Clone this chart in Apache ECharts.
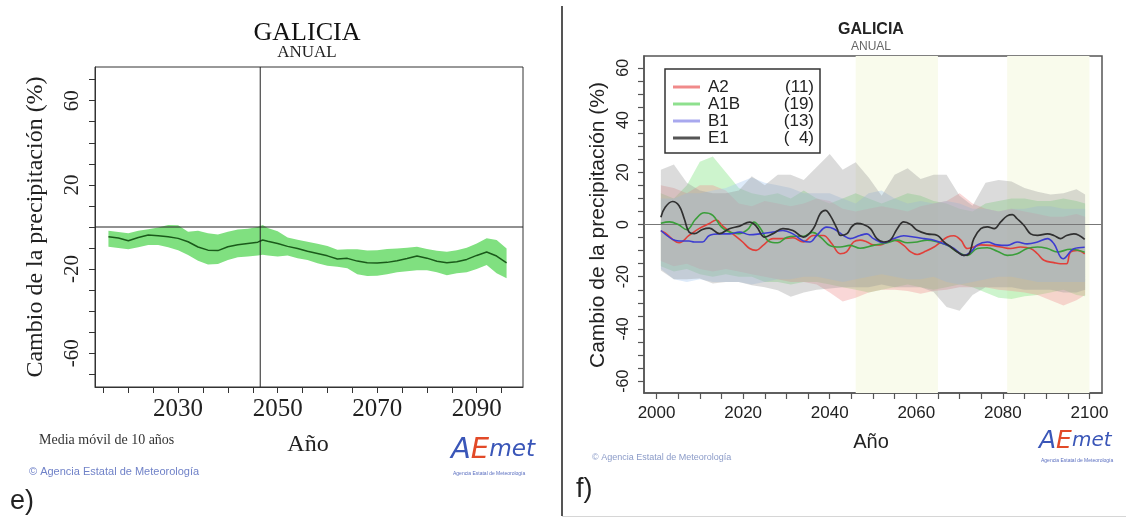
<!DOCTYPE html>
<html>
<head>
<meta charset="utf-8">
<script src="https://cdn.jsdelivr.net/npm/echarts@6/dist/echarts.min.js"></script>
<style>
  html, body { margin: 0; padding: 0; background: #ffffff; }
  #chart { width: 1126px; height: 521px; }
</style>
</head>
<body>
<div id="chart"></div>
<script>
// ---------- Panel e: 10-year moving mean, annual precipitation change (%) ----------
const yearsE = [2016, 2018, 2020, 2022, 2024, 2026, 2028, 2030, 2032, 2034, 2036, 2038, 2040, 2042,
  2044, 2046, 2047, 2048, 2050, 2052, 2054, 2056, 2058, 2060, 2062, 2064, 2066, 2068, 2070, 2072,
  2074, 2076, 2078, 2080, 2082, 2084, 2086, 2088, 2090, 2092, 2094, 2096];
const meanE = [-4.6, -5.2, -6.5, -5.0, -3.8, -4.1, -4.6, -5.4, -7.0, -9.5, -11.0, -11.2, -9.4, -8.4,
  -7.8, -7.2, -6.2, -6.8, -7.8, -9.2, -10.2, -11.5, -12.6, -13.7, -15.2, -14.9, -16.2, -17.0, -17.1, -16.8,
  -16.0, -15.0, -13.8, -14.8, -16.3, -17.0, -16.5, -15.4, -13.5, -11.9, -13.8, -17.0];
const highE = [-1.8, -2.4, -3.0, -1.8, -1.1, -0.2, 0.9, 0.8, -2.2, -1.8, -3.0, -3.6, -2.2, -1.2,
  -0.8, 0.0, 1.0, -0.5, -2.0, -5.0, -6.0, -7.0, -8.0, -9.0, -10.8, -10.6, -10.6, -11.2, -11.0, -10.5,
  -10.2, -9.8, -9.4, -10.4, -11.3, -11.7, -11.0, -9.8, -7.8, -5.4, -6.2, -10.2];
const lowE = [-9.4, -10.0, -10.6, -9.6, -8.6, -8.6, -9.6, -11.0, -13.3, -16.0, -17.8, -17.6, -15.7, -14.4,
  -14.0, -13.5, -13.2, -13.5, -14.0, -13.5, -14.8, -15.7, -17.2, -18.4, -18.9, -19.6, -22.5, -23.3, -23.1, -22.5,
  -21.5, -21.0, -20.5, -20.5, -21.5, -22.9, -22.0, -21.5, -20.0, -18.1, -22.0, -24.4];
const markYearE = 2046.5;
const xTicksE = [2015, 2020, 2025, 2030, 2035, 2040, 2045, 2050, 2055, 2060, 2065, 2070, 2075, 2080, 2085, 2090, 2095];
const xLabelsE = [2030, 2050, 2070, 2090];
const yTicksE = [-70, -60, -50, -40, -30, -20, -10, 0, 10, 20, 30, 40, 50, 60, 70];
const yLabelsE = [-60, -20, 20, 60];

// ---------- Panel f: scenario ensembles (envelopes + ensemble means) ----------
const bandYears = [2001, 2004, 2007, 2010, 2013, 2016, 2019, 2022, 2025, 2028, 2031, 2034, 2037, 2040,
  2043, 2046, 2049, 2052, 2055, 2058, 2061, 2064, 2067, 2070, 2073, 2076, 2079, 2082, 2085, 2088,
  2091, 2094, 2097, 2099];
const hiE1 = [21, 23, 16, 13, 12, 12, 13, 18.5, 15, 19, 19, 17, 22, 27, 21, 23.8, 18, 11, 19, 21.5,
  17.4, 19, 19, 11, 7.2, 16, 17, 16.5, 14, 12.5, 11.5, 12, 13.5, 11.5];
const loE1 = [-17.6, -21, -21, -20.7, -22.6, -22, -22, -23.3, -24, -25.2, -27.7, -26, -25, -24.5, -24, -24,
  -24, -23, -24, -24, -24, -25.8, -31.6, -33, -27, -24, -24, -24, -25, -25, -25, -26, -26, -25];
const hiA1B = [12, 10, 15, 24, 26, 20, 14, 12, 11, 12, 10, 13, 10, 8, 10, 12, 10, 8, 10, 12, 11, 9, 8, 6,
  5, 8, 9, 10, 10, 9, 9, 10, 9, 8];
const loA1B = [-16, -18, -17, -19, -20, -19, -20, -20, -22, -22, -23, -22, -22, -23, -24, -25, -26, -25,
  -24, -23, -24, -25, -24, -23, -24, -26, -28, -28.5, -27.5, -27, -26, -25, -27, -27.5];
const hiA2 = [15, 14, 12, 15, 15, 13, 8, 7, 9, 8, 7, 8, 10, 9, 6, 5, 6, 7, 6, 5, 7, 8, 9, 12, 8, 6, 5,
  6, 5, 4, 3, 3, 4, 3];
const loA2 = [-14, -16, -15, -17, -18, -17, -18, -19, -20, -21, -22, -22, -23, -26, -29.5, -28, -26, -25,
  -25, -25.5, -26.5, -25.5, -25, -24, -24, -24, -25, -25.5, -26, -27, -29, -31, -29, -27];
const hiB1 = [10, 10, 12, 12, 13, 14, 16, 18, 16, 15, 14, 12, 12, 12, 10, 8, 12, 13, 10, 8, 9, 8, 9, 8,
  6, 6, 5, 6, 6, 7, 7, 6, 6, 6];
const loB1 = [-17, -21, -22, -21, -22, -22, -22, -23, -22, -21, -21, -20, -20, -21, -22, -21, -20, -19,
  -20, -21, -21, -20, -22, -23, -22, -21, -20, -20, -21, -22, -22, -22, -22, -22];

const yearsA2 = [2001, 2002, 2003.7, 2005.2, 2007.5, 2009.8, 2012.2, 2013.8, 2015.3, 2017.6, 2019.9, 2021.5,
  2023, 2024.6, 2026.9, 2029.2, 2031.5, 2033.9, 2036.2, 2038.5, 2040.5, 2042.4, 2043.9, 2045.5, 2047, 2048.6,
  2050.1, 2051.7, 2053.3, 2054.8, 2057.1, 2058.7, 2060.2, 2061.8, 2064.1, 2065.6, 2067.2, 2068.7, 2070.3,
  2071.8, 2073.3, 2074.9, 2077.2, 2079.5, 2081.8, 2084.1, 2086.4, 2088, 2089.5, 2091.8, 2093.3, 2094.7,
  2095.6, 2097.2, 2098.9];
const valsA2 = [-2.5, -3.2, -5.7, -7.0, -4.2, -1.6, 0.4, 1.7, -0.6, -3.6, -6.7, -9.2, -9.9, -8.0, -5.4, -5.4,
  -5.1, -6.7, -4.2, -4.2, -7.4, -11.2, -10.5, -6.7, -6.0, -6.7, -7.8, -7.8, -6.7, -6.0, -8.0, -10.5, -11.5,
  -10.5, -8.6, -6.7, -4.8, -4.3, -6.0, -9.2, -8.6, -7.8, -8.0, -8.6, -9.2, -8.6, -9.2, -11.2, -13.7, -14.6,
  -15.0, -15.0, -10.6, -9.9, -11.2];
const yearsA1B = [2001, 2003, 2005, 2007, 2009, 2011, 2013, 2015, 2017, 2019, 2021, 2022.5, 2024, 2026, 2028,
  2030, 2032, 2034, 2036, 2038, 2040, 2042.4, 2044.7, 2047, 2050.1, 2053.3, 2055.6, 2057.9, 2060.2, 2062.5,
  2064.9, 2067.2, 2069.5, 2071.8, 2074.1, 2076.4, 2078.7, 2081, 2083.3, 2085.6, 2088, 2090.3, 2092.6, 2095.6,
  2098.9];
const valsA1B = [0.5, 1.0, 0.0, -2.0, 2.0, 4.5, 3.5, -1.0, -3.0, -3.5, -2.0, 0.9, -1.5, -6.5, -7.0, -5.0, -4.5,
  -4.5, -3.0, -5.0, -8.0, -8.6, -8.0, -9.1, -8.0, -7.0, -6.0, -7.0, -6.7, -6.0, -6.7, -8.0, -10.5, -11.8, -9.2,
  -8.9, -10.2, -11.8, -11.2, -9.2, -8.6, -9.2, -10.5, -9.5, -10.6];
const yearsB1 = [2001, 2003.7, 2005.2, 2007.5, 2008.7, 2010.6, 2012.2, 2014.5, 2016.8, 2019.2, 2021.5, 2023.8,
  2026.9, 2029.2, 2031.5, 2033.9, 2035.4, 2037, 2039.3, 2040.9, 2043.2, 2044.7, 2047, 2048.6, 2050.1, 2052.5,
  2054.8, 2057.1, 2059.4, 2061.8, 2064.1, 2066.4, 2068.7, 2071, 2072.6, 2074.1, 2076.4, 2078.7, 2081, 2083.3,
  2085.6, 2088, 2090.3, 2091.8, 2093.9, 2096.4, 2098.9];
const valsB1 = [-2.3, -5.7, -6.3, -6.3, -6.7, -6.7, -4.2, -3.6, -3.6, -2.9, -3.9, -3.6, -2.9, -2.3, -3.6, -6.3,
  -6.7, -4.2, -1.0, -1.6, -4.2, -5.4, -4.2, -3.6, -5.4, -7.0, -5.4, -4.3, -4.8, -5.4, -6.0, -7.4, -9.2, -11.8,
  -10.5, -7.8, -6.7, -7.8, -8.0, -6.7, -7.4, -6.7, -5.4, -7.4, -13.1, -9.3, -8.7];
const yearsE1 = [2001, 2002, 2003.7, 2005.2, 2006.4, 2007.5, 2008.7, 2010.6, 2012.2, 2014.5, 2016.8, 2019.2,
  2021.5, 2023, 2025, 2026.9, 2029.2, 2031.5, 2033.9, 2036.2, 2037.8, 2039, 2040.1, 2041.7, 2042.5, 2044,
  2045, 2046.3, 2047.8, 2049.4, 2050.9, 2052.5, 2054, 2055.6, 2057.1, 2058.7, 2060.2, 2062.5, 2064.9, 2066.4,
  2068, 2069.5, 2071, 2072.2, 2073.3, 2074.9, 2076.4, 2078, 2079.5, 2081, 2082.2, 2083.3, 2084.9, 2086.4,
  2088, 2090.3, 2091.8, 2093.3, 2094.7, 2096.4, 2098.9];
const valsE1 = [2.8, 6.6, 8.8, 7.2, 2.2, -2.9, -3.5, -1.9, -1.4, -3.5, -1.6, -0.6, 0.9, -0.6, -4.8, -3.5, -1.6,
  -2.3, -4.8, -1.6, 4.1, 5.4, 3.5, -1.6, -4.2, -3.5, -1.0, 0.4, 0.0, -1.6, -5.4, -6.7, -6.0, -1.6, 1.0, 0.0,
  -2.2, -3.6, -4.2, -6.7, -8.6, -10.5, -11.8, -11.2, -5.4, -1.6, -0.9, -1.6, 1.0, 3.3, 3.8, 2.2, -0.4, -3.6,
  -4.2, -3.6, -4.2, -5.4, -4.2, -3.6, -5.7];

const scenarioNames = ['A2', 'A1B', 'B1', 'E1'];
const scenarioCounts = ['(11)', '(19)', '(13)', '(  4)'];
const highlightPeriods = [[2046, 2065], [2081, 2100]];
const xTicksF = [];
for (let y = 2000; y <= 2100; y += 5) xTicksF.push(y);
const xLabelsF = [2000, 2020, 2040, 2060, 2080, 2100];
const yTicksF = [];
for (let v = -60; v <= 60; v += 5) yTicksF.push(v);
const yLabelsF = [-60, -40, -20, 0, 20, 40, 60];

// ---------- styling ----------
const SERIF = "'Liberation Serif', 'DejaVu Serif', serif";
const SANS = "'Liberation Sans', Arial, sans-serif";
const lineColors = { A2: '#e0403a', A1B: '#3a9e3a', B1: '#3c3cd0', E1: '#303030' };
const keyColors = { A2: '#f08a8a', A1B: '#8ee08e', B1: '#a8a8ee', E1: '#555555' };
const bandFill = {
  A1B: 'rgba(135,228,135,0.42)',
  A2: 'rgba(238,150,150,0.38)',
  B1: 'rgba(165,200,240,0.38)',
  E1: 'rgba(150,150,150,0.34)'
};
const plainNumber = v => String(v);

function zip(xs, ys) { return xs.map((x, i) => [x, ys[i]]); }

// filled envelope between lo and hi, drawn as one polygon through the axes' scales
function band(name, xi, years, lo, hi, fill, z) {
  return {
    name: name, type: 'custom', xAxisIndex: xi, yAxisIndex: xi, z: z, silent: true, clip: true,
    data: years.map((y, i) => [y, lo[i], hi[i]]),
    encode: { x: 0, y: [1, 2] },
    renderItem: function (params, api) {
      if (params.dataIndex !== 0) return null;
      const pts = [];
      for (let i = 0; i < years.length; i++) pts.push(api.coord([years[i], hi[i]]));
      for (let i = years.length - 1; i >= 0; i--) pts.push(api.coord([years[i], lo[i]]));
      return { type: 'polygon', shape: { points: pts }, style: { fill: fill, stroke: null } };
    }
  };
}

function line(name, xi, xs, ys, color, width, z, smooth) {
  return {
    name: name, type: 'line', xAxisIndex: xi, yAxisIndex: xi, z: z, silent: true,
    data: zip(xs, ys), showSymbol: false, smooth: smooth,
    lineStyle: { color: color, width: width }
  };
}

const xMinE = 2013.3, xMaxE = 2099.3, yMinE = -76, yMaxE = 76;
const xMinF = 1997.1, xMaxF = 2102.9, yMinF = -64.5, yMaxF = 64.5;

const series = [
  band('rango', 0, yearsE, lowE, highE, '#80e080', 2),
  line('media', 0, yearsE, meanE, '#1a5a1a', 1.5, 4, false),
  line('cero', 0, [xMinE, xMaxE], [0, 0], '#222', 1, 5, false),
  line('corte', 0, [markYearE, markYearE], [yMinE, yMaxE], '#222', 1, 5, false),

  {
    name: 'periodos', type: 'line', xAxisIndex: 1, yAxisIndex: 1, z: 1, silent: true,
    data: [[xMinF, 0], [xMaxF, 0]], showSymbol: false, lineStyle: { opacity: 0 },
    markArea: {
      silent: true,
      itemStyle: { color: '#f9fbec' },
      data: highlightPeriods.map(p => [{ xAxis: p[0] }, { xAxis: p[1] }])
    }
  },
  band('A1B', 1, bandYears, loA1B, hiA1B, bandFill.A1B, 2),
  band('A2', 1, bandYears, loA2, hiA2, bandFill.A2, 2),
  band('B1', 1, bandYears, loB1, hiB1, bandFill.B1, 2),
  band('E1', 1, bandYears, loE1, hiE1, bandFill.E1, 2),
  line('cero f', 1, [xMinF, xMaxF], [0, 0], '#777', 1, 3, false),
  line('A2', 1, yearsA2, valsA2, lineColors.A2, 1.6, 4, 0.4),
  line('A1B', 1, yearsA1B, valsA1B, lineColors.A1B, 1.6, 4, 0.4),
  line('B1', 1, yearsB1, valsB1, lineColors.B1, 1.6, 4, 0.4),
  line('E1', 1, yearsE1, valsE1, lineColors.E1, 1.7, 5, 0.4)
];

// legend box of panel f
const legendGraphics = [{
  type: 'rect', shape: { x: 665, y: 69, width: 155, height: 84 },
  style: { fill: '#ffffff', stroke: '#333', lineWidth: 1.5 }, z: 50
}];
scenarioNames.forEach((n, i) => {
  const y = 87 + i * 17;
  legendGraphics.push({ type: 'line', shape: { x1: 673, y1: y, x2: 700, y2: y },
    style: { stroke: keyColors[n], lineWidth: 3 }, z: 51 });
  legendGraphics.push({ type: 'text', x: 708, y: y,
    style: { text: n, fontSize: 17, fontFamily: SANS, fill: '#222', align: 'left', verticalAlign: 'middle' }, z: 51 });
  legendGraphics.push({ type: 'text', x: 814, y: y,
    style: { text: scenarioCounts[i], fontSize: 17, fontFamily: SANS, fill: '#222', align: 'right', verticalAlign: 'middle' }, z: 51 });
});

function txt(x, y, text, size, family, fill, extra) {
  return Object.assign({ type: 'text', x: x, y: y, z: 60,
    style: Object.assign({ text: text, fontSize: size, fontFamily: family, fill: fill,
      align: 'center', verticalAlign: 'middle' }, (extra && extra.style) || {}) },
    extra && extra.rotation ? { rotation: extra.rotation } : {});
}

function logo(x, y, size) {
  return [
    { type: 'text', x: x, y: y, z: 60, style: {
      text: '{a|A}{e|E}{m|met}', verticalAlign: 'middle', align: 'left',
      rich: {
        a: { fill: '#3a56b8', fontSize: size, fontFamily: "'DejaVu Sans', sans-serif", fontStyle: 'italic' },
        e: { fill: '#e24a28', fontSize: size, fontFamily: "'DejaVu Sans', sans-serif", fontStyle: 'italic' },
        m: { fill: '#3a56b8', fontSize: size * 0.8, fontFamily: "'DejaVu Sans', sans-serif", fontStyle: 'italic' }
      } } },
    { type: 'text', x: x + 2, y: y + size * 0.8, z: 60, style: {
      text: 'Agencia Estatal de Meteorología', fontSize: 5, fontFamily: SANS, fill: '#5b6fc0',
      align: 'left', verticalAlign: 'middle' } }
  ];
}

const graphics = [
  // panel e texts
  txt(307, 33, 'GALICIA', 26, SERIF, '#111'),
  txt(307, 53, 'ANUAL', 17, SERIF, '#222'),
  txt(36, 227, 'Cambio de la precipitación (%)', 24, SERIF, '#222', { rotation: Math.PI / 2 }),
  txt(308, 445, 'Año', 24, SERIF, '#222'),
  txt(39, 440, 'Media móvil de 10 años', 14, SERIF, '#333', { style: { align: 'left' } }),
  txt(29, 472, '© Agencia Estatal de Meteorología', 11, SANS, '#7082c8', { style: { align: 'left' } }),
  txt(10, 502, 'e)', 27, SANS, '#222', { style: { align: 'left' } }),
  ...logo(451, 450, 29),

  // panel f texts
  txt(871, 30, 'GALICIA', 16, SANS, '#222', { style: { fontWeight: 'bold' } }),
  txt(871, 47, 'ANUAL', 12, SANS, '#666'),
  txt(598, 225, 'Cambio de la precipitación (%)', 21, SANS, '#222', { rotation: Math.PI / 2 }),
  txt(871, 442, 'Año', 20, SANS, '#222'),
  txt(592, 458, '© Agencia Estatal de Meteorología', 9, SANS, '#8b9bc8', { style: { align: 'left' } }),
  txt(576, 490, 'f)', 27, SANS, '#222', { style: { align: 'left' } }),
  ...logo(1039, 441, 25),

  // frame between the two panels
  { type: 'line', z: 60, shape: { x1: 562, y1: 6, x2: 562, y2: 516 }, style: { stroke: '#555', lineWidth: 2 } },
  { type: 'line', z: 60, shape: { x1: 562, y1: 516.5, x2: 1126, y2: 516.5 }, style: { stroke: '#d6d6d6', lineWidth: 1 } },
  ...legendGraphics
];

const option = {
  animation: false,
  backgroundColor: '#ffffff',
  grid: [
    { left: 95, top: 67, width: 428, height: 320, show: true, borderColor: '#333', borderWidth: 1 },
    { left: 644, top: 56, width: 458, height: 337, show: true, borderColor: '#555', borderWidth: 1.5 }
  ],
  xAxis: [
    {
      gridIndex: 0, type: 'value', min: xMinE, max: xMaxE,
      axisLine: { show: true, onZero: false, lineStyle: { color: '#333', width: 1 } },
      axisTick: { show: true, customValues: xTicksE, length: 6, lineStyle: { color: '#333' } },
      axisLabel: { customValues: xLabelsE, formatter: plainNumber, fontFamily: SERIF, fontSize: 25, color: '#222', margin: 10 },
      splitLine: { show: false }
    },
    {
      gridIndex: 1, type: 'value', min: xMinF, max: xMaxF,
      axisLine: { show: true, onZero: false, lineStyle: { color: '#555', width: 1.5 } },
      axisTick: { show: true, customValues: xTicksF, length: 6, lineStyle: { color: '#555', width: 1.2 } },
      axisLabel: { customValues: xLabelsF, formatter: plainNumber, fontFamily: SANS, fontSize: 17, color: '#222', margin: 12 },
      splitLine: { show: false }
    }
  ],
  yAxis: [
    {
      gridIndex: 0, type: 'value', min: yMinE, max: yMaxE,
      axisLine: { show: true, onZero: false, lineStyle: { color: '#333', width: 1 } },
      axisTick: { show: true, customValues: yTicksE, length: 6, lineStyle: { color: '#333' } },
      axisLabel: { customValues: yLabelsE, formatter: plainNumber, rotate: 90, fontFamily: SERIF, fontSize: 21, color: '#222', margin: 12 },
      splitLine: { show: false }
    },
    {
      gridIndex: 1, type: 'value', min: yMinF, max: yMaxF,
      axisLine: { show: true, onZero: false, lineStyle: { color: '#555', width: 1.5 } },
      axisTick: { show: true, customValues: yTicksF, length: 6, lineStyle: { color: '#555', width: 1.2 } },
      axisLabel: { customValues: yLabelsF, formatter: plainNumber, rotate: 90, fontFamily: SANS, fontSize: 16, color: '#222', margin: 12 },
      splitLine: { show: false }
    }
  ],
  series: series,
  graphic: graphics
};

const chart = echarts.init(document.getElementById('chart'), null, { renderer: 'canvas' });
chart.setOption(option);
</script>
</body>
</html>
